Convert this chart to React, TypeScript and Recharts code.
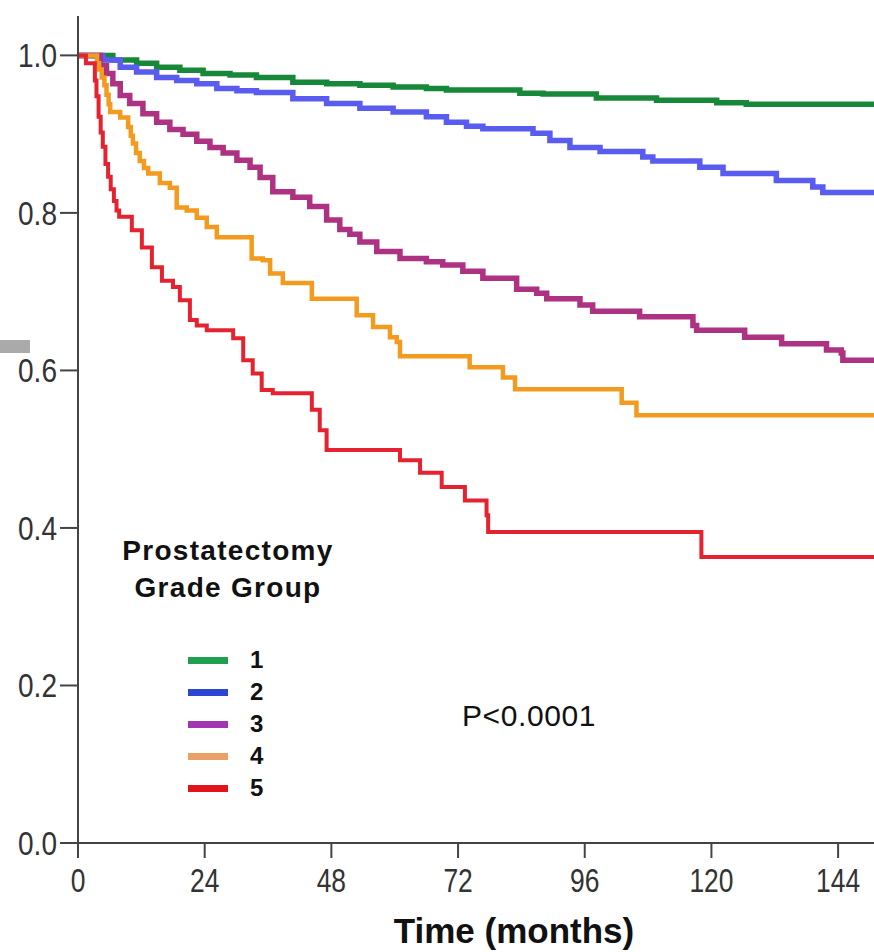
import { LineChart, Line, XAxis, YAxis, Legend } from 'recharts';

// Kaplan-Meier curves: time (months) and survival proportion
const GROUPS = ['1', '2', '3', '4', '5'];
const LINE_COLORS = ['#17883a', '#5a5cf0', '#ad3282', '#f29b1f', '#e52330'];
const KEY_COLORS = ['#20a04f', '#2b46d4', '#a036b0', '#eba067', '#e0141a'];

const X_TICKS = [0, 24, 48, 72, 96, 120, 144];
const Y_TICKS = [0, 0.2, 0.4, 0.6, 0.8, 1.0];

const g1Time = [0, 2.8, 6.6, 11.1, 14.9, 19.3, 23.7, 28.8, 33.8, 40.7, 47.1, 53.4, 59.7, 66.0, 69.8, 83.7, 88.1, 98.2, 109.6, 121.0, 126.6, 150.8];
const g1Surv = [1.0, 1.0, 0.994, 0.99, 0.985, 0.981, 0.977, 0.975, 0.972, 0.966, 0.964, 0.962, 0.96, 0.958, 0.956, 0.952, 0.951, 0.946, 0.943, 0.94, 0.938, 0.938];

const g2Time = [0, 2.8, 4.7, 8.0, 11.1, 14.9, 18.7, 22.5, 26.3, 30.1, 33.8, 40.7, 47.1, 53.4, 59.7, 66.0, 69.8, 73.6, 76.7, 86.2, 89.4, 93.2, 98.9, 107.0, 108.9, 117.8, 122.2, 132.3, 139.2, 141.1, 150.8];
const g2Surv = [1.0, 1.0, 0.994, 0.985, 0.979, 0.972, 0.968, 0.964, 0.958, 0.955, 0.953, 0.945, 0.939, 0.933, 0.928, 0.922, 0.915, 0.91, 0.907, 0.901, 0.892, 0.883, 0.878, 0.871, 0.866, 0.858, 0.85, 0.841, 0.833, 0.826, 0.826];

const g3Time = [0, 2.8, 4.2, 5.4, 6.6, 8.0, 9.8, 12.3, 14.9, 17.4, 19.9, 22.5, 25.0, 27.5, 30.1, 32.6, 34.5, 36.9, 40.7, 43.9, 47.1, 49.6, 51.5, 53.4, 56.6, 61.0, 66.0, 69.1, 72.9, 76.7, 83.1, 86.9, 88.8, 95.1, 97.5, 106.4, 116.5, 117.2, 126.3, 133.3, 141.8, 144.6, 144.9, 150.8];
const g3Surv = [1.0, 1.0, 0.987, 0.977, 0.964, 0.949, 0.939, 0.926, 0.915, 0.906, 0.9, 0.891, 0.883, 0.876, 0.867, 0.858, 0.845, 0.827, 0.82, 0.808, 0.791, 0.779, 0.773, 0.763, 0.751, 0.742, 0.738, 0.734, 0.726, 0.717, 0.703, 0.698, 0.691, 0.683, 0.675, 0.668, 0.657, 0.651, 0.642, 0.634, 0.626, 0.622, 0.613, 0.613];

const g4Time = [0, 3.0, 3.6, 4.0, 4.5, 5.0, 5.4, 5.8, 6.1, 8.0, 9.5, 10.0, 10.4, 11.0, 11.7, 12.5, 13.3, 15.5, 17.4, 18.7, 20.6, 22.5, 24.4, 26.3, 32.9, 35.0, 36.4, 38.8, 44.3, 52.8, 55.9, 59.1, 60.4, 61.0, 74.2, 80.5, 82.8, 103.0, 105.8, 150.8];
const g4Surv = [1.0, 1.0, 0.99, 0.982, 0.972, 0.962, 0.95, 0.938, 0.928, 0.921, 0.909, 0.898, 0.888, 0.876, 0.866, 0.857, 0.85, 0.838, 0.832, 0.807, 0.803, 0.794, 0.782, 0.769, 0.742, 0.74, 0.723, 0.711, 0.691, 0.67, 0.655, 0.642, 0.636, 0.618, 0.604, 0.591, 0.576, 0.559, 0.543, 0.543];

const g5Time = [0, 1.5, 2.8, 3.2, 3.5, 3.9, 4.3, 4.7, 5.2, 5.7, 6.2, 6.8, 7.3, 7.8, 10.2, 12.1, 14.0, 15.9, 18.0, 19.3, 21.2, 22.5, 24.4, 29.4, 31.3, 33.1, 34.8, 36.9, 44.3, 45.8, 47.1, 61.0, 64.8, 68.9, 73.3, 77.4, 77.7, 118.1, 150.8];
const g5Surv = [1.0, 0.99, 0.99, 0.968, 0.948, 0.922, 0.902, 0.884, 0.862, 0.846, 0.83, 0.815, 0.803, 0.795, 0.778, 0.756, 0.731, 0.714, 0.706, 0.689, 0.664, 0.657, 0.651, 0.641, 0.613, 0.596, 0.575, 0.571, 0.55, 0.524, 0.499, 0.486, 0.47, 0.452, 0.435, 0.416, 0.395, 0.363, 0.363];

const zip = (t: number[], s: number[]) => t.map((x, i) => ({ t: x, s: s[i] }));
const SERIES = [zip(g1Time, g1Surv), zip(g2Time, g2Surv), zip(g3Time, g3Surv), zip(g4Time, g4Surv), zip(g5Time, g5Surv)];
const WIDTHS = [5.5, 5.5, 5.5, 4.5, 4];

const FONT = '"Liberation Sans", Arial, sans-serif';

// SPSS-style tick labels are narrower than Liberation Sans, so squeeze them a bit
const XTick = ({ x, y, payload }: any) => (
    <text transform={`translate(${x},${y}) scale(0.8,1)`} textAnchor="middle" dy="0.74em" fontSize={33} fill="#333" fontFamily={FONT}>
        {payload.value}
    </text>
);
const YTick = ({ x, y, payload }: any) => (
    <text transform={`translate(${x},${y}) scale(0.85,1)`} textAnchor="end" dy="0.36em" fontSize={33} fill="#333" fontFamily={FONT}>
        {Number(payload.value).toFixed(1)}
    </text>
);

const GroupKey = () => (
    <div style={{ fontFamily: FONT, color: '#111' }}>
        <div style={{ fontWeight: 700, fontSize: 28, lineHeight: '37px', textAlign: 'center', width: 240, letterSpacing: 1.3 }}>
            Prostatectomy<br />Grade Group
        </div>
        <div style={{ marginTop: 38, marginLeft: 80 }}>
            {GROUPS.map((g, i) => (
                <div key={g} style={{ display: 'flex', alignItems: 'center', height: 32 }}>
                    <div style={{ width: 40, height: 7, background: KEY_COLORS[i], marginRight: 22 }} />
                    <span style={{ fontWeight: 700, fontSize: 24 }}>{g}</span>
                </div>
            ))}
        </div>
    </div>
);

export default function App() {
    return (
        <div style={{ position: 'absolute', left: 0, top: 0, width: 874, height: 952, background: '#fff' }}>
            <div style={{ position: 'absolute', left: 0, top: 340, width: 30, height: 13, background: '#aaa' }} />
            <LineChart width={874} height={952} margin={{ top: 16, right: 0, bottom: 0, left: 0 }}>
                <XAxis
                    type="number" dataKey="t" domain={[0, 150.8]} ticks={X_TICKS} allowDataOverflow
                    height={109} tickSize={15} tickMargin={10}
                    stroke="#444" strokeWidth={2}
                    tick={<XTick />}
                    label={{ value: 'Time (months)', position: 'insideBottom', offset: 9, dx: 38, style: { fontSize: 35, fontWeight: 700, fill: '#111', fontFamily: FONT } }}
                />
                <YAxis
                    type="number" dataKey="s" domain={[0, 1.05]} ticks={Y_TICKS} allowDataOverflow
                    width={78} tickSize={18} tickMargin={3}
                    stroke="#444" strokeWidth={2}
                    tick={<YTick />}
                />
                <Legend layout="horizontal" verticalAlign="middle" content={() => <GroupKey />} wrapperStyle={{ left: 108, top: 532, width: 260 }} />
                {SERIES.map((d, i) => (
                    <Line key={GROUPS[i]} name={GROUPS[i]} data={d} dataKey="s" type="stepAfter" stroke={LINE_COLORS[i]} strokeWidth={WIDTHS[i]} dot={false} isAnimationActive={false} />
                ))}
            </LineChart>
            <div style={{ position: 'absolute', left: 462, top: 699, fontFamily: FONT, fontSize: 30, letterSpacing: 0.6, color: '#111' }}>P&lt;0.0001</div>
        </div>
    );
}
